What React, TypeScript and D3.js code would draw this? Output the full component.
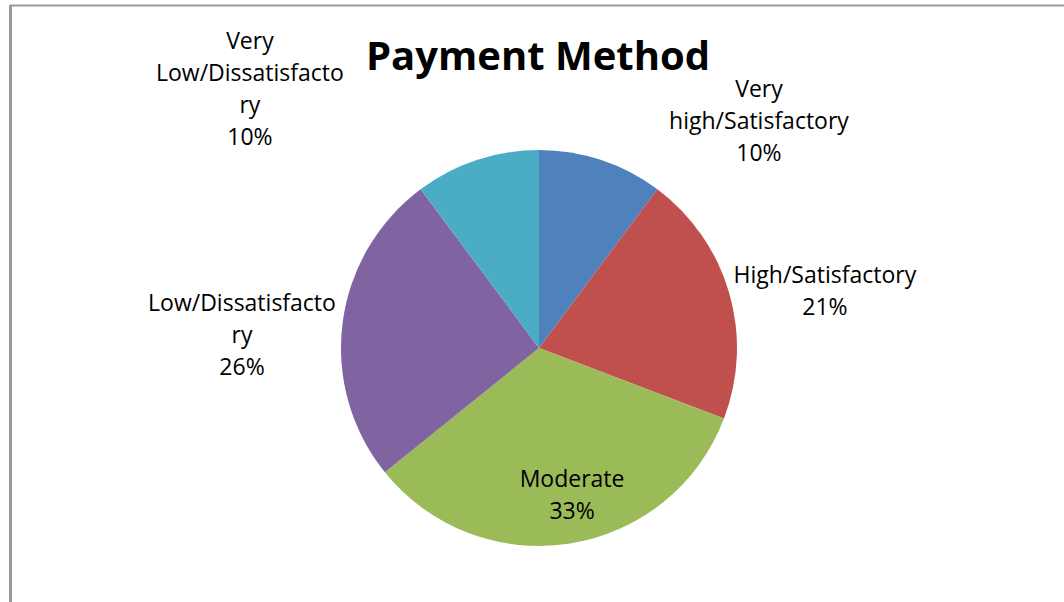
import React from "react";
import * as d3 from "d3";

const categories = [
  "Very high/Satisfactory",
  "High/Satisfactory",
  "Moderate",
  "Low/Dissatisfactory",
  "Very Low/Dissatisfactory",
];
const values = [10.2, 20.6, 33.4, 25.6, 10.2];
const labelLines = [
  ["Very", "high/Satisfactory"],
  ["High/Satisfactory"],
  ["Moderate"],
  ["Low/Dissatisfacto", "ry"],
  ["Very", "Low/Dissatisfacto", "ry"],
];
const colors = ["#4F81BD", "#C0504D", "#9BBB59", "#8064A2", "#4BACC6"];
// label anchor offsets relative to pie centre, in units of radius
const labelOffsets: [number, number][] = [
  [1.111, -1.146],
  [1.444, -0.288],
  [0.167, 0.742],
  [-1.5, -0.066],
  [-1.46, -1.308],
];

const W = 1064;
const H = 602;
const cx = 539;
const cy = 348;
const R = 198;
const FONT = "'Open Sans', sans-serif";
const LINE = 32;

export default function App() {
  const total = d3.sum(values);
  const pie = d3
    .pie<number>()
    .sort(null)
    .value((d) => d)
    .startAngle(0)
    .endAngle(2 * Math.PI);
  const arcs = pie(values);
  const arc = d3.arc<d3.PieArcDatum<number>>().innerRadius(0).outerRadius(R);
  const fmt = (v: number) => `${Math.round((v / total) * 100)}%`;

  return (
    <svg
      width={W}
      height={H}
      style={{ position: "absolute", left: 0, top: 0, background: "#fff", fontVariantLigatures: "none" }}
    >
      <rect x={0} y={0} width={W} height={H} fill="#fff" />
      <line x1={10} y1={5.5} x2={W} y2={5.5} stroke="#9a9a9a" strokeWidth={2} />
      <line x1={10.5} y1={5} x2={10.5} y2={H} stroke="#9a9a9a" strokeWidth={3} />
      <text
        x={538}
        y={70}
        textAnchor="middle"
        fontFamily={FONT}
        fontWeight="bold"
        fontSize={40}
        fill="#000"
      >
        Payment Method
      </text>
      <g transform={`translate(${cx},${cy})`}>
        {arcs.map((a, i) => (
          <path key={i} d={arc(a) || ""} fill={colors[i]} />
        ))}
      </g>
      {arcs.map((a, i) => {
        const lines = [...labelLines[i], fmt(values[i])];
        const [ox, oy] = labelOffsets[i];
        const x = cx + ox * R;
        const yMid = cy + oy * R;
        const y0 = yMid - ((lines.length - 1) * LINE) / 2;
        return (
          <text
            key={i}
            textAnchor="middle"
            fontFamily={FONT}
            fontSize={23}
            fill="#000"
          >
            {lines.map((l, j) => (
              <tspan key={j} x={x} y={y0 + j * LINE} dy="0.35em">
                {l}
              </tspan>
            ))}
          </text>
        );
      })}
    </svg>
  );
}
